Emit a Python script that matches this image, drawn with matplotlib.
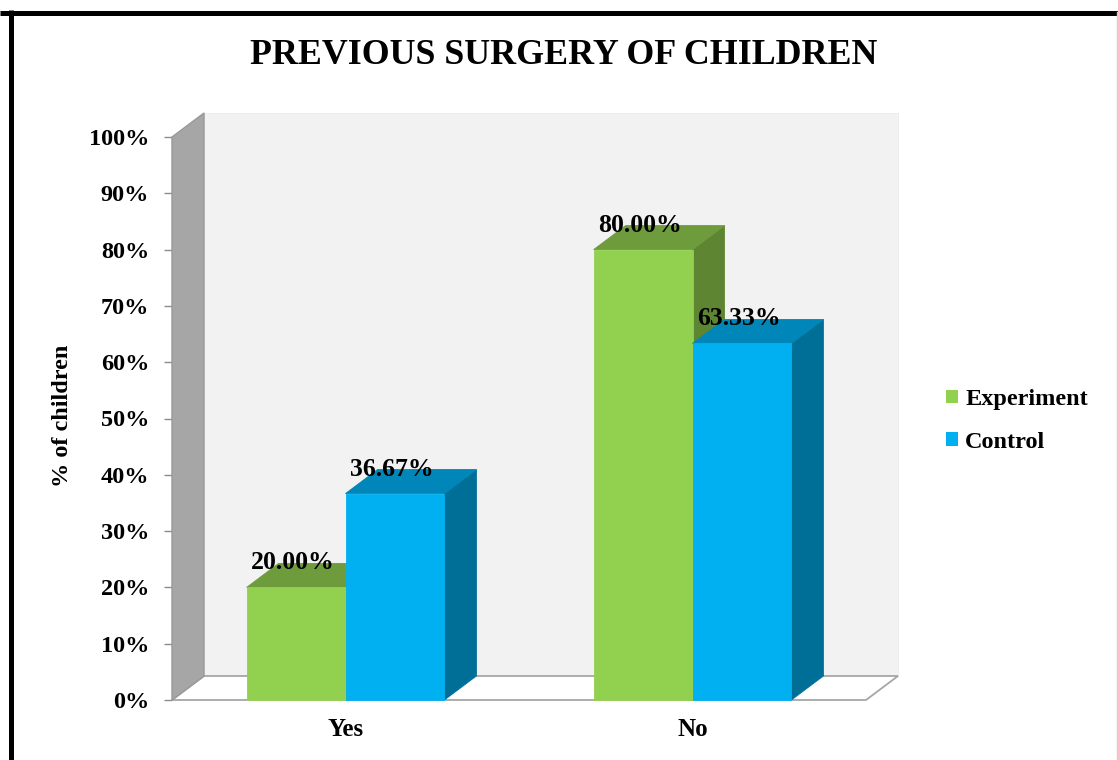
import matplotlib
matplotlib.use("Agg")
import matplotlib.pyplot as plt
from matplotlib.patches import Polygon, Patch
from matplotlib.lines import Line2D

# ---- data ----
categories = ["Yes", "No"]
series_names = ["Experiment", "Control"]
experiment = [20.00, 80.00]
control = [36.67, 63.33]
y_ticks = [0, 10, 20, 30, 40, 50, 60, 70, 80, 90, 100]
y_tick_labels = [f"{t}%" for t in y_ticks]
title = "PREVIOUS SURGERY OF CHILDREN"
y_label = "% of children"

# ---- styling ----
W, H, DPI = 1118, 760, 100
FONT = "Liberation Serif"
face_colors = {"Experiment": ("#92D050", "#6E9B3C", "#5E8632"),
               "Control": ("#00B0F0", "#0086B8", "#006F98")}
BAR_W = 0.285          # bar width in category units
DEPTH_PX = (32, 24)    # oblique depth offset (right, up) in pixels

plt.rcParams["font.family"] = [FONT, "DejaVu Serif"]
plt.rcParams["font.weight"] = "bold"

fig = plt.figure(figsize=(W / DPI, H / DPI), dpi=DPI)
fig.patch.set_facecolor("white")

ax = fig.add_axes([172 / W, 1 - 700 / H, 694 / W, 563 / H])
ax.set_xlim(0, len(categories))
ax.set_ylim(0, 100)
ax.patch.set_visible(False)
for s in ax.spines.values():
    s.set_visible(False)

# depth offset converted to data units
pos = ax.get_position()
px_per_x = pos.width * W / (ax.get_xlim()[1] - ax.get_xlim()[0])
px_per_y = pos.height * H / (ax.get_ylim()[1] - ax.get_ylim()[0])
ddx = DEPTH_PX[0] / px_per_x
ddy = DEPTH_PX[1] / px_per_y


def P(x, y, d):
    return (x + d * ddx, y + d * ddy)


def face(pts, color, z, edge=None, lw=0.6):
    ax.add_patch(Polygon(pts, closed=True, facecolor=color,
                         edgecolor=edge if edge else color, linewidth=lw,
                         clip_on=False, zorder=z))


x_max = len(categories)
y_max = 100
# walls and floor
face([P(0, 0, 1), P(x_max, 0, 1), P(x_max, y_max, 1), P(0, y_max, 1)], "#F2F2F2", 1, edge="#ECECEC")
face([P(0, 0, 0), P(x_max, 0, 0), P(x_max, 0, 1), P(0, 0, 1)], "white", 2, edge="#A6A6A6", lw=1.3)
face([P(0, 0, 0), P(0, 0, 1), P(0, y_max, 1), P(0, y_max, 0)], "#A6A6A6", 3, edge="#999999", lw=1.0)

# bars
z = 10
for i, cat in enumerate(categories):
    for j, (name, vals) in enumerate(zip(series_names, [experiment, control])):
        v = vals[i]
        x0 = i + 0.5 - BAR_W + j * BAR_W
        x1 = x0 + BAR_W
        front, top, side = face_colors[name]
        face([P(x1, 0, 0), P(x1, v, 0), P(x1, v, 1), P(x1, 0, 1)], side, z)
        face([P(x0, v, 0), P(x1, v, 0), P(x1, v, 1), P(x0, v, 1)], top, z + 1)
        face([P(x0, 0, 0), P(x1, 0, 0), P(x1, v, 0), P(x0, v, 0)], front, z + 2)
        ax.annotate(f"{v:.2f}%", xy=((x0 + x1) / 2, v),
                    xytext=(-3 * 72 / DPI, 18 * 72 / DPI), textcoords="offset points",
                    ha="center", va="baseline", fontsize=18.5, fontweight="bold",
                    color="black", zorder=100, annotation_clip=False)
        z += 3

# axes ticks
ax.set_yticks(y_ticks)
ax.set_yticklabels(y_tick_labels)
ax.set_xticks([i + 0.5 for i in range(len(categories))])
ax.set_xticklabels(categories)
ax.tick_params(axis="y", direction="out", length=8 * 72 / DPI, width=1.0,
               color="#8C8C8C", pad=15 * 72 / DPI, labelsize=17.5)
ax.tick_params(axis="x", length=0, pad=18 * 72 / DPI, labelsize=18)
for lab in ax.get_xticklabels() + ax.get_yticklabels():
    lab.set_fontweight("bold")

# title and axis label
fig.text(563.5 / W, 1 - 56 / H, title, ha="center", va="center",
         fontsize=25.8, fontweight="bold")
fig.text(63 / W, 1 - 416 / H, y_label, rotation=90, ha="center", va="center",
         fontsize=17.5, fontweight="bold")

# legend
handles = [Patch(facecolor=face_colors[n][0], edgecolor="none") for n in series_names]
fig.legend(handles, series_names, loc="center left",
           bbox_to_anchor=(924 / W, 1 - 421 / H), frameon=False,
           handlelength=0.5, handleheight=0.5, handletextpad=0.3,
           labelspacing=0.9, prop={"family": FONT, "weight": "bold", "size": 17.5})

# outer frame
fig.add_artist(Line2D([0, 1], [1 - 12.5 / H, 1 - 12.5 / H], color="black", lw=5 * 72 / DPI,
                      transform=fig.transFigure, solid_capstyle="butt"))
fig.add_artist(Line2D([10.5 / W, 10.5 / W], [0, 1 - 10 / H], color="black", lw=5 * 72 / DPI,
                      transform=fig.transFigure, solid_capstyle="butt"))
fig.add_artist(Line2D([1116.5 / W, 1116.5 / W], [0, 1 - 12 / H], color="#D0D0D0", lw=1,
                      transform=fig.transFigure))

fig.savefig("out.png", dpi=DPI, facecolor="white")
